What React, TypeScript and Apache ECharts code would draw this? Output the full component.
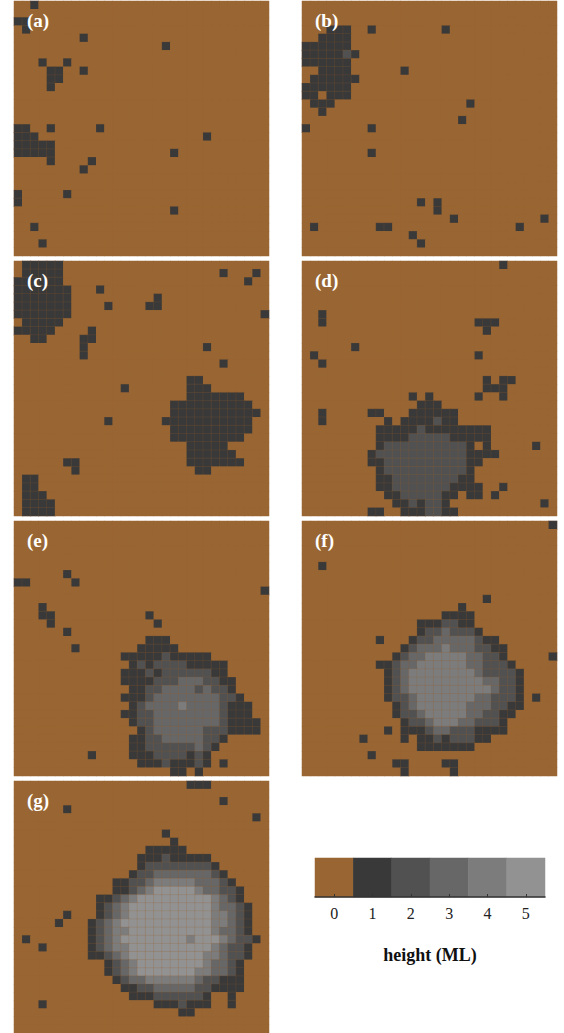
import React, { useEffect, useRef } from "react";
import * as echarts from "echarts";

// Each panel: 31 rows (top to bottom), tokens "col" or "from-to" with optional ":height" (default 1); unlisted cells are 0.
const PANEL_A = [
  "2", "", "0-1", "1", "8", "18", "", "3 6", "4-5 8", "4-5", "4", "", "", "", "",
  "0-1 4 10", "0-2 23", "0-4", "0-4 19", "4 9", "8", "", "", "0 6", "0", "19", "",
  "2", "", "3", "",
];
const PANEL_B = [
  "", "", "", "3-5 8 17", "2-5", "0-5", "0-4 5:2 6", "0-5", "2-5 12", "1-6", "0-5",
  "0-1 3-5", "1-3 20", "2", "19", "0 8", "", "", "8", "", "", "", "", "", "14 16",
  "16", "18 29", "1 9-10 26", "13", "14", "",
];
const PANEL_C = [
  "1-5", "1-5 25 29", "0-5 28", "0-6 10", "0-6 17", "0-6 11 16-17", "0-6 30", "1-5",
  "0-4 9", "2-3 8-9", "8 23", "8", "25", "", "21-22", "13 21-23", "21-27", "19-28",
  "19-29", "11 18-28", "19-28", "19-27", "21-25", "21-26", "6-7 21-27", "7 22-23",
  "1-2", "1-2", "1-3", "1-4", "1-4",
];
const PANEL_D = [
  "24", "", "", "", "", "", "2", "2 21-23", "22", "", "6", "1 21", "2", "",
  "22 24-25", "22-24", "13 15 21 24", "14-16", "2 8-9 13-18",
  "2 10 12-15 16:2 17-18",
  "9-13 14:2 15-22",
  "9-12 13-17:2 18-22",
  "9 10-19:2 20 22 28",
  "8 9-19:2 20-23",
  "8-9 10-19:2 20-21",
  "9 10-19:2 20",
  "9-10 11-18:2 19-20",
  "9-10 11-17:2 18-21 24",
  "10-11 12-16:2 17-18 20-21 23",
  "11-12 13:2 14 15-16:2 17 29",
  "8-9 12-14 15-16:2 17-18",
];
const PANEL_E = [
  "", "", "", "", "", "", "6", "0-1 7", "30", "", "3", "3-4 16", "4 17", "6",
  "16-18", "7 15-19",
  "13-17 18:2 19-23",
  "14 15:2 16 17-20:2 21-25",
  "13-15 16:2 17 18-23:2 24-25",
  "13-16 17-19:2 20-22:3 23-24:2 25-26",
  "14-15 16-17:2 18-21:3 22:2 23:3 24-25:2 26",
  "13-15 16:2 17-24:3 25-26:2 27",
  "14 15:2 16-19:3 20:4 21-24:3 25:2 26-28",
  "13-14 15-16:2 17-24:3 25:2 26-28",
  "14 15-16:2 17-24:3 25:2 26-29",
  "15 16:2 17-22:3 23-25:2 26-29",
  "14-15 16-17:2 18-22:3 23-24:2 25",
  "14-15 16-21:2 22:3 23:2 24",
  "9 14-16 17-20:2 21 22:2 23",
  "15-17 18:2 19-21 22:2 23 25",
  "19-20 22",
];
const PANEL_F = [
  "30", "", "", "", "", "2", "", "", "", "22", "19", "17-20",
  "14-16 17-18:2 19-20",
  "14 15-16:2 17:3 18-20:2 21",
  "9 13 14-15:2 16-20:3 21:2 22-23",
  "12 13:2 14-16:3 17:4 18-20:3 21-22:2 23-24",
  "11 12:2 13-14:3 15-19:4 20-21:3 22-23:2 24 30",
  "9-10 11:2 12-13:3 14-19:4 20-21:3 22-24:2 25",
  "10 11:2 12:3 13-20:4 21:3 22-25:2 26",
  "10 11:2 12:3 13-21:4 22-23:3 24-25:2 26",
  "10 11:2 12:3 13-22:4 23:3 24-25:2 26",
  "10 11-12:2 13:3 14-20:4 21-22:3 23-25:2 26 28",
  "11 12:2 13:3 14-19:4 20-22:3 23-24:2 25-26",
  "11 12-13:2 14:3 15-19:4 20-21:3 22-23:2 24-25",
  "12 13-14:2 15:3 16-18:4 19-20:3 21-23:2 24",
  "10 12-14 15:2 16-17:3 18-20:2 21-24",
  "7 12 14-15 16:2 17 18-20:2 21-22",
  "14-20", "8", "11-12 17-18", "12 18",
];
const PANEL_G = [
  "21-23", "", "25", "6", "29", "", "18", "19", "16-20",
  "15-17 18:2 19-23",
  "15 16-23:2 24",
  "14 15-16:2 17-23:3 24:2 25",
  "12-13 14-15:2 16:3 17-21:4 22-24:3 25:2 26",
  "12-13 14:2 15:3 16:4 17-21:5 22:4 23-24:3 25-26:2 27",
  "10-11 12:2 13:3 14:4 15-23:5 24:4 25:3 26:2 27",
  "10 11:2 12:3 13:4 14-23:5 24:4 25-26:3 27:2 28",
  "6 10 11:2 12:3 13:4 14-23:5 24-25:4 26:3 27:2 28",
  "5 9 10:2 11:3 12:4 13-23:5 24-25:4 26:3 27:2 28",
  "9 10:2 11:3 12-13:4 14-23:5 24:4 25-26:3 27:2 28",
  "1 9 10:2 11:3 12:4 13-20:5 21:4 22-24:5 25:4 26:3 27-28:2 29",
  "3 9 10:2 11:3 12-13:4 14-23:5 24:4 25:3 26-27:2 28",
  "9-10 11:2 12:3 13:4 14-22:5 23-24:4 25:3 26-27:2 28",
  "11 12:2 13:3 14:4 15-22:5 23:4 24-25:3 26:2 27",
  "11 12:2 13:3 14:4 15-21:5 22-23:4 24-25:3 26:2 27",
  "12 13:2 14-15:3 16-21:4 22:3 23-24:2 25-27",
  "13-14 15-16:2 17-21:3 22-23:2 24-27",
  "14-16 17-22:2 23 26",
  "3 17-19 20:2 21-23 26",
  "20-21", "", "",
];

const PANEL_LABELS = ["(a)", "(b)", "(c)", "(d)", "(e)", "(f)", "(g)"];
const LEVELS = [0, 1, 2, 3, 4, 5];
const LEVEL_LABELS = ["0", "1", "2", "3", "4", "5"];
const LEVEL_COLORS = ["#996633", "#393939", "#515151", "#676767", "#7c7c7c", "#929292"];
const LEGEND_TITLE = "height (ML)";
const N = 31;

function parsePanel(rows: string[]): any[] {
  const out: any[] = [];
  for (let r = 0; r < N; r++) {
    const row = new Array(N).fill(0);
    const spec = (rows[r] || "").trim();
    if (spec) {
      for (const tok of spec.split(/\s+/)) {
        const [range, v] = tok.split(":");
        const val = v ? Number(v) : 1;
        const [a, b] = range.split("-").map(Number);
        const end = b === undefined || isNaN(b) ? a : b;
        for (let c = a; c <= end; c++) row[c] = val;
      }
    }
    for (let c = 0; c < N; c++) {
      out.push(
        row[c] === 0
          ? { value: [c, r, 0], itemStyle: { borderWidth: 0 } }
          : { value: [c, r, row[c]] }
      );
    }
  }
  return out;
}

export default function App() {
  const ref = useRef<HTMLDivElement>(null);
  useEffect(() => {
    if (!ref.current) return;
    const chart = echarts.init(ref.current, null, { renderer: "svg" });
    const panels = [PANEL_A, PANEL_B, PANEL_C, PANEL_D, PANEL_E, PANEL_F, PANEL_G];
    const lefts = [14, 302];
    const tops = [1, 261, 521, 781];
    const size = 255;
    const cats = Array.from({ length: N }, (_, i) => String(i));
    const grids: any[] = [];
    const xAxes: any[] = [];
    const yAxes: any[] = [];
    const series: any[] = [];
    const graphics: any[] = [];
    panels.forEach((p, i) => {
      const left = lefts[i % 2];
      const top = tops[Math.floor(i / 2)];
      grids.push({
        left, top, width: size, height: size, containLabel: false,
        show: true, backgroundColor: LEVEL_COLORS[0], borderWidth: 0,
      });
      xAxes.push({ type: "category", data: cats, gridIndex: i, show: false });
      yAxes.push({ type: "category", data: cats, gridIndex: i, show: false, inverse: true });
      series.push({
        type: "heatmap",
        xAxisIndex: i,
        yAxisIndex: i,
        data: parsePanel(p),
        silent: true,
        itemStyle: { borderColor: "rgba(153,102,51,0.3)", borderWidth: 0.6 },
        emphasis: { disabled: true },
      });
      graphics.push({
        type: "text",
        x: left + 13,
        y: top + 19,
        z: 100,
        zlevel: 1,
        silent: true,
        style: {
          text: PANEL_LABELS[i],
          fill: "#ffffff",
          fontSize: 19,
          fontWeight: "bold",
          fontFamily: "Liberation Serif",
          verticalAlign: "middle",
          align: "left",
        },
      });
    });
    // colour bar legend
    const li = panels.length;
    grids.push({ left: 315, top: 858, width: 230, height: 39 });
    xAxes.push({
      type: "category",
      data: LEVEL_LABELS,
      gridIndex: li,
      position: "bottom",
      axisLine: { show: true, lineStyle: { color: "#333", width: 1.5 } },
      axisTick: { show: true, inside: true, alignWithLabel: true, length: 3, interval: 0, lineStyle: { color: "#333" } },
      axisLabel: { interval: 0, margin: 8, fontSize: 16, color: "#222", fontFamily: "Liberation Serif" },
      name: LEGEND_TITLE,
      nameLocation: "middle",
      nameGap: 49,
      nameTextStyle: { fontSize: 18, fontWeight: "bold", color: "#111", fontFamily: "Liberation Serif" },
      z: 10,
    });
    yAxes.push({ type: "category", data: ["0"], gridIndex: li, show: false });
    series.push({
      type: "heatmap",
      xAxisIndex: li,
      yAxisIndex: li,
      data: LEVELS.map((v, k) => [k, 0, v]),
      silent: true,
      emphasis: { disabled: true },
    });
    chart.setOption({
      animation: false,
      backgroundColor: "#ffffff",
      grid: grids,
      xAxis: xAxes,
      yAxis: yAxes,
      visualMap: {
        type: "piecewise",
        show: false,
        dimension: 2,
        pieces: LEVELS.map((v) => ({ value: v, color: LEVEL_COLORS[v] })),
      },
      series,
      graphic: { elements: graphics },
    });
    return () => chart.dispose();
  }, []);
  return (
    <div
      ref={ref}
      style={{ position: "fixed", left: 0, top: 0, width: 564, height: 1033 }}
    />
  );
}
